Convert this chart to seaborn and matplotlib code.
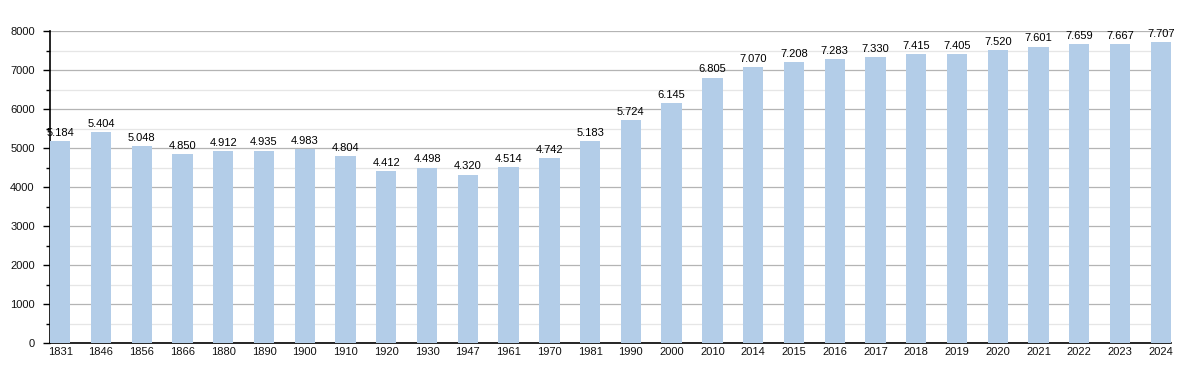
import matplotlib
matplotlib.use("Agg")
import matplotlib.pyplot as plt
import seaborn as sns
import pandas as pd
from matplotlib.ticker import MultipleLocator

years = ["1831","1846","1856","1866","1880","1890","1900","1910","1920","1930","1947","1961","1970","1981",
         "1990","2000","2010","2014","2015","2016","2017","2018","2019","2020","2021","2022","2023","2024"]
population = [5184,5404,5048,4850,4912,4935,4983,4804,4412,4498,4320,4514,4742,5183,
              5724,6145,6805,7070,7208,7283,7330,7415,7405,7520,7601,7659,7667,7707]

df = pd.DataFrame({"year": years, "pop": population})

sns.set_style("white")
plt.rcParams['font.family'] = ['Liberation Sans', 'DejaVu Sans']

fig = plt.figure(figsize=(12, 3.73), dpi=100)
ax = fig.add_axes([50/1200, 1-343/373, (1171-50)/1200, (343-31)/373])

sns.barplot(data=df, x="year", y="pop", color="#b3cde8", width=0.5, ax=ax,
            saturation=1, linewidth=0, edgecolor="none", zorder=3)

ax.set_xlim(-0.25, len(years) - 0.75)
ax.set_ylim(0, 8000)
ax.yaxis.set_major_locator(MultipleLocator(1000))
ax.yaxis.set_minor_locator(MultipleLocator(500))
ax.grid(axis="y", which="major", color="#b4b4b4", linewidth=0.9, zorder=0)
ax.grid(axis="y", which="minor", color="#e6e6e6", linewidth=0.9, zorder=0)
ax.set_axisbelow(True)

for s in ["top", "right"]:
    ax.spines[s].set_visible(False)
for s in ["left", "bottom"]:
    ax.spines[s].set_color("black")
    ax.spines[s].set_linewidth(1.2)

ax.tick_params(axis="y", which="major", length=5, width=1, color="black", labelsize=8, pad=6, left=True, labelcolor="#111111")
ax.tick_params(axis="y", which="minor", length=3, width=1, color="black", left=True)
ax.tick_params(axis="x", length=0, labelsize=8, pad=3, labelcolor="#111111")
ax.set_xlabel("")
ax.set_ylabel("")

for i, v in enumerate(population):
    ax.text(i, v + 80, f"{v:,}".replace(",", "."), ha="center", va="bottom", fontsize=8, color="black")

fig.savefig("out.png", dpi=100)
